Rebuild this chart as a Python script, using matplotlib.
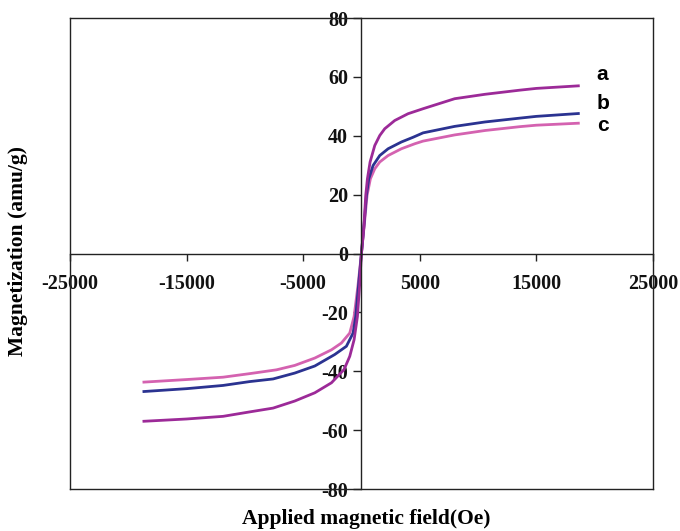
import matplotlib
matplotlib.use('Agg')
import matplotlib.pyplot as plt

# field (Oe) / magnetization (amu/g) pairs, one set per sample
field_a = [-18780, -15000, -11870, -9600, -7580, -5720, -4000, -2570, -1490, -1000, -630, -343, -143, 0,
           200, 372, 515, 744, 1144, 1573, 2000, 2860, 4000, 5290, 8000, 10600, 13580, 15000, 18730]
mag_a = [-57.0, -56.2, -55.3, -53.8, -52.5, -50.1, -47.3, -43.9, -39.4, -34.9, -29.3, -21.4, -10.1, 0.0,
         8.5, 19.8, 25.4, 31.1, 36.7, 40.1, 42.4, 45.2, 47.5, 49.2, 52.6, 54.1, 55.5, 56.1, 57.0]

field_b = [-18780, -15000, -11870, -9600, -7580, -5720, -4000, -2290, -1290, -715, -486, -250, 0,
           250, 430, 630, 1000, 1573, 2290, 3430, 4430, 5290, 8000, 10600, 13580, 15000, 18730]
mag_b = [-46.9, -45.9, -44.8, -43.5, -42.6, -40.6, -38.2, -34.3, -31.5, -27.0, -21.4, -11.0, 0.0,
         11.0, 19.8, 25.4, 29.9, 33.3, 35.6, 37.9, 39.5, 41.0, 43.2, 44.7, 46.0, 46.6, 47.6]

field_c = [-18780, -15000, -11870, -9600, -7290, -5720, -4000, -2570, -1720, -1000, -630, -300, 0,
           300, 486, 770, 1144, 1573, 2290, 3430, 4580, 5290, 8000, 10600, 13580, 15000, 18730]
mag_c = [-43.7, -42.8, -42.0, -40.8, -39.5, -38.0, -35.5, -32.7, -30.4, -27.0, -21.4, -11.0, 0.0,
         12.0, 19.8, 25.4, 28.8, 31.1, 33.3, 35.6, 37.3, 38.2, 40.3, 41.8, 43.1, 43.6, 44.3]

curve_names = ['a', 'b', 'c']
curve_colors = ['#9c2a98', '#2b3391', '#d462b0']
name_y = [60.9, 51.1, 43.4]

xticks = [-25000, -15000, -5000, 5000, 15000, 25000]
yticks = [-80, -60, -40, -20, 0, 20, 40, 60, 80]

serif = 'Liberation Serif'
edge = '#222222'

fig = plt.figure(figsize=(6.8, 5.31), dpi=100)
ax = fig.add_axes([0.103, 0.079, 0.857, 0.887])

# c first so that a sits on top near the origin
curves = [(field_c, mag_c, curve_colors[2]),
          (field_b, mag_b, curve_colors[1]),
          (field_a, mag_a, curve_colors[0])]
for fx, my, col in curves:
    ax.plot(fx, my, color=col, lw=2.0, solid_joinstyle='round', solid_capstyle='butt')

for name, yv in zip(curve_names, name_y):
    ax.text(20700, yv, name, fontsize=15, fontweight='bold', family='Liberation Sans',
            ha='center', va='center')

ax.set_xlim(-25000, 25000)
ax.set_ylim(-80, 80)

# axis lines cross at the origin, the box is drawn round the edges
ax.spines['left'].set_position(('data', 0))
ax.spines['bottom'].set_position(('data', 0))
for s in ax.spines.values():
    s.set_linewidth(1.0)
    s.set_color(edge)
ax.axvline(-25000, color=edge, lw=1.0, clip_on=False)
ax.axhline(-80, color=edge, lw=1.0, clip_on=False)

ax.set_xticks(xticks)
ax.set_yticks(yticks)
ax.set_xticklabels([str(v) for v in xticks])
ax.set_yticklabels([str(v) for v in yticks])
ax.tick_params(axis='x', direction='out', length=5, width=1.0, pad=10, colors=edge,
               labelcolor='#111111')
ax.tick_params(axis='y', direction='out', length=5.5, width=1.0, pad=4, colors=edge,
               labelcolor='#111111')
for lab in ax.get_xticklabels() + ax.get_yticklabels():
    lab.set_fontfamily(serif)
    lab.set_fontweight('bold')
    lab.set_fontsize(14.5)

ax.set_xlabel('Applied magnetic field(Oe)', fontsize=15.5, fontweight='bold', family=serif)
ax.set_ylabel('Magnetization (amu/g)', fontsize=15.5, fontweight='bold', family=serif)
ax.xaxis.set_label_coords(0.508, -0.042)
ax.yaxis.set_label_coords(-0.072, 0.505)

fig.savefig('out.png', dpi=100)
